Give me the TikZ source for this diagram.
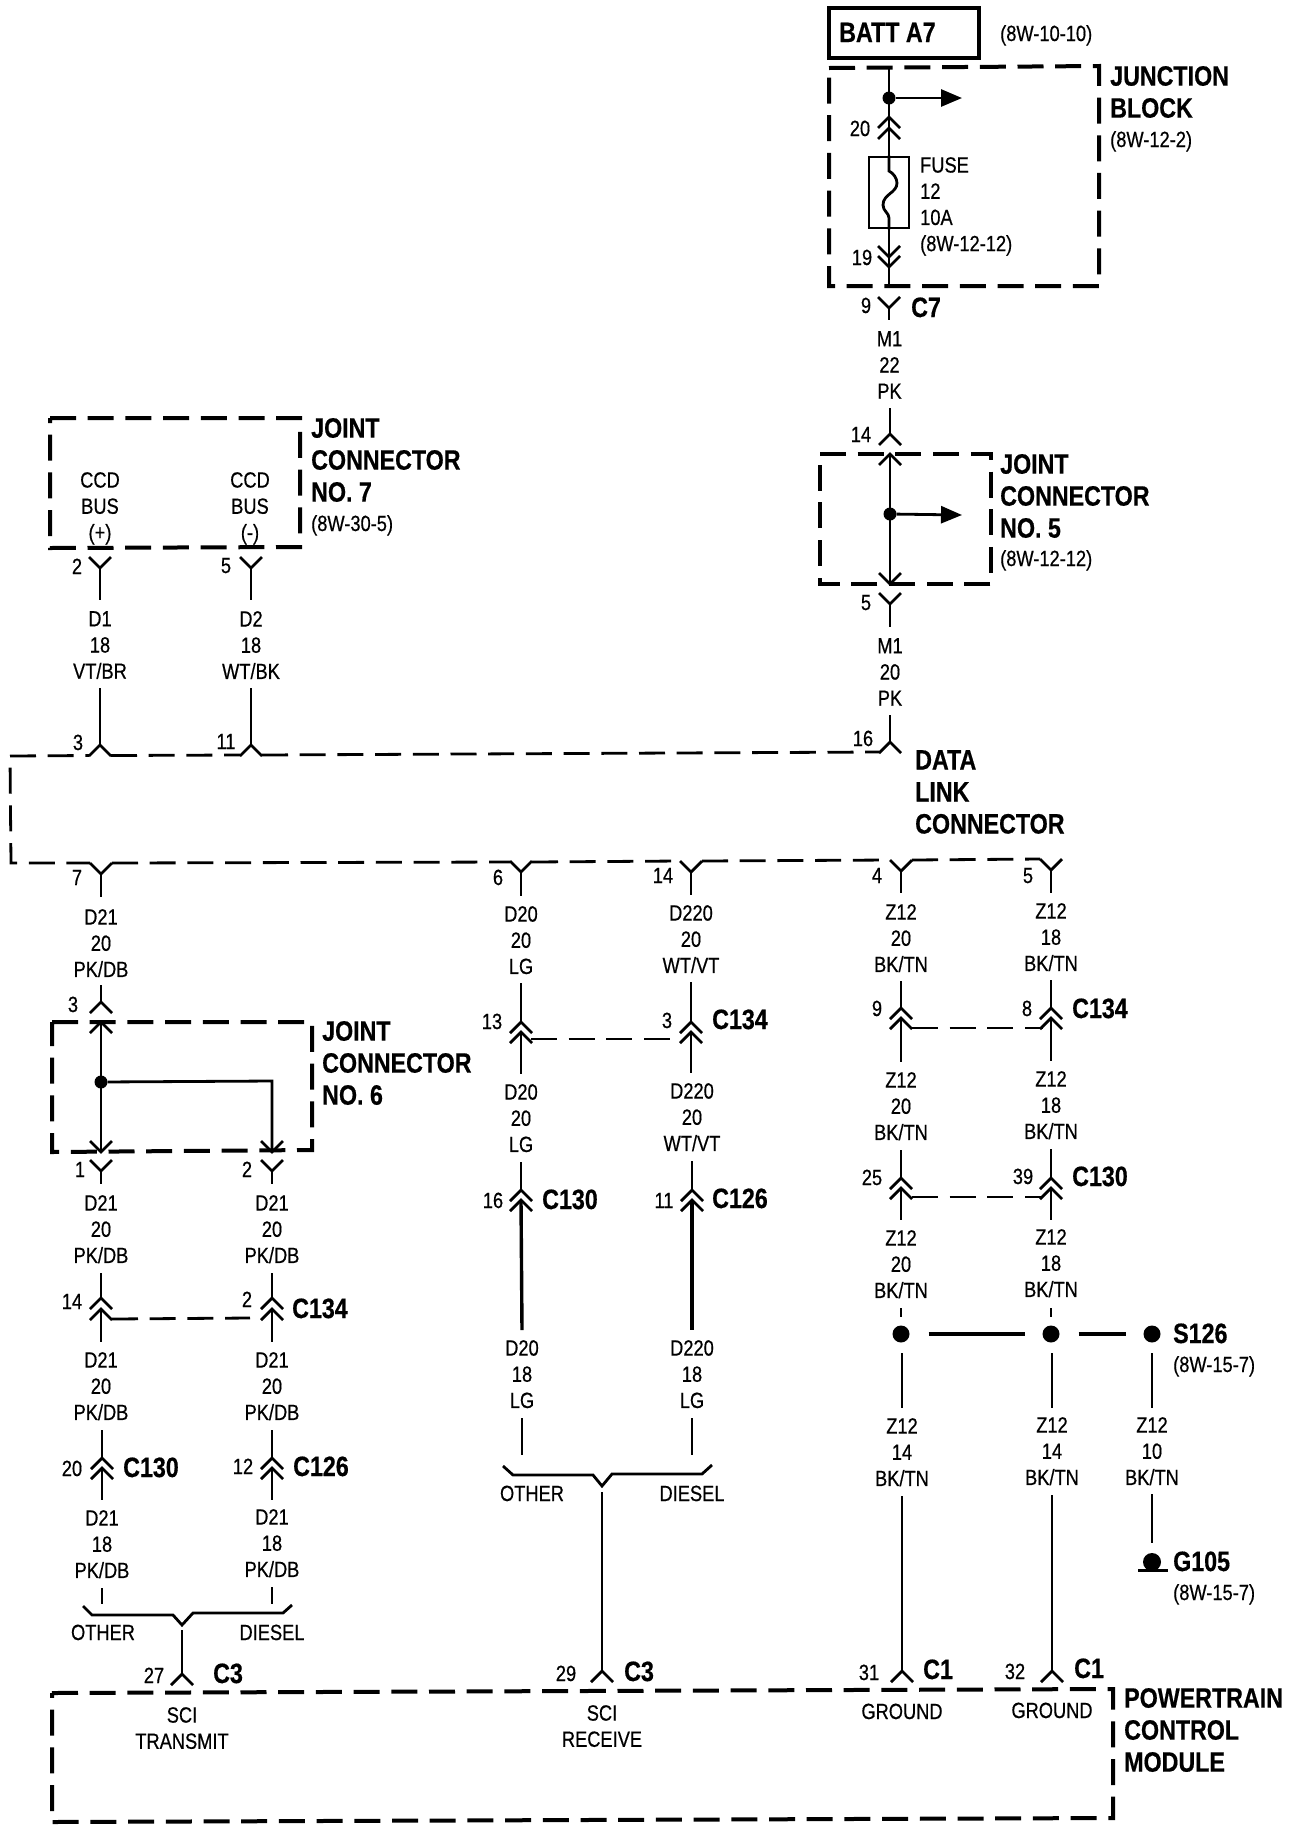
\documentclass[tikz,border=0pt]{standalone}
\usepackage{fontspec}
\setmainfont{Liberation Sans}[FakeStretch=0.83,FakeBold=0.5]
\usetikzlibrary{arrows.meta}
\newcommand{\fsm}{\fontsize{22}{26.2}\selectfont}
\newcommand{\fbg}{\fontsize{28}{32}\selectfont\bfseries}
\tikzset{
	wire/.style={line width=2.8pt},
	heavy/.style={line width=3.4pt},
	tie/.style={line width=2.8pt,dash pattern=on 26pt off 11.7pt},
	box/.style={line width=4pt,dash pattern=on 26pt off 11.7pt},
	wl/.style={inner sep=0pt,anchor=north,align=center,font=\fsm},
	num/.style={inner sep=0pt,font=\fsm,text height=16pt,text depth=0pt},
	refl/.style={num,anchor=west},
	ttl/.style={inner sep=0pt,anchor=west,align=left,font=\fbg},
	con/.style={inner sep=0pt,anchor=west,font=\fbg,text height=20pt,text depth=0pt},
	dot/.style={circle,fill=black,inner sep=0pt,minimum size=13pt},
	bigdot/.style={dot,minimum size=17pt},
	head/.style={-{Triangle[length=21pt,width=17pt]}},
	up/.pic={\draw[wire] (-11,11) -- (0,0) -- (11,11);},
	dn/.pic={\draw[wire] (-11,-11) -- (0,0) -- (11,-11);},
}
\begin{document}
\begin{tikzpicture}[x=1pt,y=-1pt]
	\useasboundingbox (0,0) rectangle (1296,1832);

	% --- junction block
	\node[draw,line width=4pt,inner sep=0pt,minimum width=150pt,minimum height=50pt] (batt) at (904,33) {};
	\node[con] (battl) at (839,32) {BATT A7};
	\node[refl] (battr) at (1000,33) {(8W-10-10)};
	\draw[box] (829,68) -- (1099,66) -- (1099,286) -- (829,286) -- cycle;
	\node[ttl] (jbl) at (1110,92) {JUNCTION\\BLOCK};
	\node[refl] (jbr) at (1110,139) {(8W-12-2)};
	\coordinate (jbt) at (889,68);
	\coordinate (jbb) at (889,286);
	\coordinate (jba) at (962,98);
	\coordinate (c20a) at (889,117);
	\coordinate (c20b) at (889,128);
	\coordinate (c19a) at (889,257);
	\coordinate (c19b) at (889,267);
	\node[dot] (jbd) at (889,98) {};
	\node[draw,line width=2.8pt,inner sep=0pt,minimum width=40pt,minimum height=71pt] (fuse) at (889,192.5) {};
	\draw[wire] (jbt) -- (c20b) -- (fuse.north);
	\draw[wire] (fuse.north) -- (889,171) .. controls (893,173) and (897,178) .. (897,183)
		.. controls (897,193) and (883,194) .. (883,205) .. controls (883,211) and (889,213) .. (889,218) -- (fuse.south);
	\draw[wire] (fuse.south) -- (jbb);
	\draw[wire,head] (jbd) -- (jba);
	\pic at (c20a) {up};
	\pic at (c20b) {up};
	\pic at (c19a) {dn};
	\pic at (c19b) {dn};
	\node[num] (n20) at (860,128) {20};
	\node[num] (n19) at (862,257) {19};
	\node[wl,anchor=north west,align=left] (fusel) at (920,157) {FUSE\\12\\10A\\(8W-12-12)};

	% --- M1 down to joint connector 5
	\coordinate (c9) at (889,308);
	\coordinate (c9w) at (889,320);
	\pic at (c9) {dn};
	\draw[wire] (c9) -- (c9w);
	\node[num] (n9) at (866,305) {9};
	\node[con] (c7) at (911,307) {C7};
	\node[wl] (m1a) at (889.5,331) {M1\\22\\PK};
	\coordinate (m1aw) at (890,408);
	\coordinate (c14t) at (890,434);
	\coordinate (c14b) at (890,454);
	\coordinate (j5b) at (890,584);
	\coordinate (c5) at (890,604);
	\coordinate (c5w) at (890,627);
	\coordinate (j5a) at (962,515);
	\draw[wire] (m1aw) -- (c14t);
	\pic at (c14t) {up};
	\pic at (c14b) {up};
	\node[num] (n14) at (861,434) {14};
	\draw[box] (820,454) -- (991,454) -- (991,584) -- (820,584) -- cycle;
	\node[dot] (j5d) at (890,514) {};
	\draw[wire] (c14b) -- (j5b);
	\draw[wire,head] (j5d) -- (j5a);
	\pic at (j5b) {dn};
	\pic at (c5) {dn};
	\draw[wire] (c5) -- (c5w);
	\node[num] (n5) at (866,602) {5};
	\node[ttl] (j5l) at (1000,496) {JOINT\\CONNECTOR\\NO. 5};
	\node[refl] (j5r) at (1000,558) {(8W-12-12)};
	\node[wl] (m1b) at (890,638) {M1\\20\\PK};
	\coordinate (m1bw) at (890,715);
	\coordinate (c16) at (890,742);
	\draw[wire] (m1bw) -- (c16);
	\pic at (c16) {up};
	\node[num] (n16) at (863,738) {16};

	% --- joint connector 7
	\draw[box] (50,418) -- (300,418) -- (300,547) -- (50,548) -- cycle;
	\node[ttl] (j7l) at (311,460) {JOINT\\CONNECTOR\\NO. 7};
	\node[refl] (j7r) at (311,523) {(8W-30-5)};
	\node[wl] (ccda) at (100,472) {CCD\\BUS\\(+)};
	\node[wl] (ccdb) at (250,472) {CCD\\BUS\\(-)};
	\coordinate (c2) at (100,568);
	\coordinate (c2w) at (100,600);
	\coordinate (c5b) at (251,568);
	\coordinate (c5bw) at (251,600);
	\pic at (c2) {dn};
	\pic at (c5b) {dn};
	\draw[wire] (c2) -- (c2w);
	\draw[wire] (c5b) -- (c5bw);
	\node[num] (n2) at (77,566) {2};
	\node[num] (n5b) at (226,565) {5};
	\node[wl] (d1) at (100,611) {D1\\18\\VT/BR};
	\node[wl] (d2) at (251,611) {D2\\18\\WT/BK};
	\coordinate (d1w) at (100,688);
	\coordinate (d2w) at (251,688);
	\coordinate (c3) at (100,745);
	\coordinate (c11) at (251,745);
	\draw[wire] (d1w) -- (c3);
	\draw[wire] (d2w) -- (c11);
	\pic at (c3) {up};
	\pic at (c11) {up};
	\node[num] (n3) at (78,742) {3};
	\node[num] (n11) at (226,741) {11};

	% --- data link connector, broken at every pin
	\coordinate (dlc1) at (10,756);
	\coordinate (dlc3) at (11,863);
	\coordinate (dt1) at (89,755.5);
	\coordinate (dt2) at (111,755.5);
	\coordinate (dt3) at (240,755);
	\coordinate (dt4) at (262,755);
	\coordinate (dt5) at (879,752);
	\coordinate (db1) at (90,863);
	\coordinate (db2) at (112,863);
	\coordinate (db3) at (510,862);
	\coordinate (db4) at (532,862);
	\coordinate (db5) at (680,861);
	\coordinate (db6) at (702,861);
	\coordinate (db7) at (890,860);
	\coordinate (db8) at (912,860);
	\coordinate (db9) at (1040,859);
	\draw[tie] (dlc1) -- (dt1);
	\draw[tie] (dt2) -- (dt3);
	\draw[tie] (dt4) -- (dt5);
	\draw[tie,dash phase=26pt] (dlc1) -- (dlc3) -- (db1);
	\draw[tie] (db2) -- (db3);
	\draw[tie] (db4) -- (db5);
	\draw[tie] (db6) -- (db7);
	\draw[tie] (db8) -- (db9);
	\node[ttl] (dll) at (915,792) {DATA\\LINK\\CONNECTOR};

	% --- D21 transmit
	\coordinate (c7b) at (101,874);
	\coordinate (c7bw) at (101,897);
	\pic at (c7b) {dn};
	\draw[wire] (c7b) -- (c7bw);
	\node[num] (n7) at (77,877) {7};
	\node[wl] (d21a) at (101,909) {D21\\20\\PK/DB};
	\coordinate (d21aw) at (101,985);
	\coordinate (c3b) at (101,1002);
	\coordinate (j6t) at (101,1022);
	\coordinate (j6b) at (101,1152);
	\coordinate (j6c) at (272,1081);
	\coordinate (j6e) at (272,1152);
	\draw[wire] (d21aw) -- (c3b);
	\pic at (c3b) {up};
	\pic at (j6t) {up};
	\node[num] (n3b) at (73,1004) {3};
	\draw[box] (52,1022) -- (312,1022) -- (312,1150) -- (52,1152) -- cycle;
	\node[dot] (j6d) at (101,1082) {};
	\draw[wire] (j6t) -- (j6b);
	\draw[wire] (j6d) -- (j6c) -- (j6e);
	\pic at (j6b) {dn};
	\pic at (j6e) {dn};
	\node[ttl] (j6l) at (322,1063) {JOINT\\CONNECTOR\\NO. 6};
	\coordinate (c1) at (101,1171);
	\coordinate (c1w) at (101,1184);
	\coordinate (c2b) at (272,1171);
	\coordinate (c2bw) at (272,1184);
	\pic at (c1) {dn};
	\pic at (c2b) {dn};
	\draw[wire] (c1) -- (c1w);
	\draw[wire] (c2b) -- (c2bw);
	\node[num] (n1) at (80,1169) {1};
	\node[num] (n2b) at (247,1169) {2};
	\node[wl] (d21b) at (101,1195) {D21\\20\\PK/DB};
	\node[wl] (d21c) at (272,1195) {D21\\20\\PK/DB};
	\coordinate (w14a) at (101,1273);
	\coordinate (c14ca) at (101,1298);
	\coordinate (c14cb) at (101,1309);
	\coordinate (w14b) at (101,1342);
	\coordinate (w2a) at (272,1273);
	\coordinate (c2ca) at (272,1298);
	\coordinate (c2cb) at (272,1309);
	\coordinate (w2b) at (272,1342);
	\draw[wire] (w14a) -- (c14ca);
	\draw[wire] (c14cb) -- (w14b);
	\draw[wire] (w2a) -- (c2ca);
	\draw[wire] (c2cb) -- (w2b);
	\foreach \p in {c14ca,c14cb,c2ca,c2cb} \pic at (\p) {up};
	\coordinate (t134a) at (112,1319);
	\coordinate (t134b) at (250,1318);
	\draw[tie] (t134a) -- (t134b);
	\node[num] (n14c) at (72,1301) {14};
	\node[num] (n2c) at (247,1299) {2};
	\node[con] (c134a) at (292,1308) {C134};
	\node[wl] (d21d) at (101,1352) {D21\\20\\PK/DB};
	\node[wl] (d21e) at (272,1352) {D21\\20\\PK/DB};
	\coordinate (w20a) at (102,1430);
	\coordinate (c20ca) at (102,1458);
	\coordinate (c20cb) at (102,1468);
	\coordinate (w20b) at (102,1500);
	\coordinate (w12a) at (272,1430);
	\coordinate (c12a) at (272,1458);
	\coordinate (c12b) at (272,1468);
	\coordinate (w12b) at (272,1500);
	\draw[wire] (w20a) -- (c20ca);
	\draw[wire] (c20cb) -- (w20b);
	\draw[wire] (w12a) -- (c12a);
	\draw[wire] (c12b) -- (w12b);
	\foreach \p in {c20ca,c20cb,c12a,c12b} \pic at (\p) {up};
	\node[num] (n20c) at (72,1468) {20};
	\node[num] (n12) at (243,1466) {12};
	\node[con] (c130a) at (123,1467) {C130};
	\node[con] (c126a) at (293,1466) {C126};
	\node[wl] (d21f) at (102,1510) {D21\\18\\PK/DB};
	\node[wl] (d21g) at (272,1509) {D21\\18\\PK/DB};
	\coordinate (s1a) at (102,1588);
	\coordinate (s1b) at (102,1604);
	\coordinate (s2a) at (272,1587);
	\coordinate (s2b) at (272,1604);
	\draw[wire] (s1a) -- (s1b);
	\draw[wire] (s2a) -- (s2b);
	\coordinate (br1) at (182,1625);
	\draw[wire] (83,1606) -- (92,1615) -- (173,1615) -- (br1) -- (193,1613) -- (283,1613) -- (292,1605);
	\node[num] (oth1) at (103,1632) {OTHER};
	\node[num] (die1) at (272,1632) {DIESEL};
	\coordinate (w27) at (182,1630);
	\coordinate (c27) at (182,1674);
	\draw[wire] (w27) -- (c27);
	\pic at (c27) {up};
	\node[num] (n27) at (154,1675) {27};
	\node[con] (c3a) at (213,1673) {C3};

	% --- D20 / D220 receive
	\coordinate (c6) at (521,872);
	\coordinate (c6w) at (521,896);
	\coordinate (c14d) at (691,872);
	\coordinate (c14dw) at (691,895);
	\pic at (c6) {dn};
	\pic at (c14d) {dn};
	\draw[wire] (c6) -- (c6w);
	\draw[wire] (c14d) -- (c14dw);
	\node[num] (n6) at (498,877) {6};
	\node[num] (n14d) at (663,875) {14};
	\node[wl] (d20a) at (521,906) {D20\\20\\LG};
	\node[wl] (d220a) at (691,905) {D220\\20\\WT/VT};
	\coordinate (w13a) at (521,983);
	\coordinate (c13a) at (521,1022);
	\coordinate (c13b) at (521,1032);
	\coordinate (w13b) at (521,1074);
	\coordinate (w3a) at (691,982);
	\coordinate (c3ca) at (691,1022);
	\coordinate (c3cb) at (691,1032);
	\coordinate (w3b) at (691,1073);
	\draw[wire] (w13a) -- (c13a);
	\draw[wire] (c13b) -- (w13b);
	\draw[wire] (w3a) -- (c3ca);
	\draw[wire] (c3cb) -- (w3b);
	\foreach \p in {c13a,c13b,c3ca,c3cb} \pic at (\p) {up};
	\coordinate (t134c) at (531,1039);
	\coordinate (t134d) at (670,1039);
	\draw[tie] (t134c) -- (t134d);
	\node[num] (n13) at (492,1021) {13};
	\node[num] (n3c) at (667,1020) {3};
	\node[con] (c134b) at (712,1019) {C134};
	\node[wl] (d20b) at (521,1084) {D20\\20\\LG};
	\node[wl] (d220b) at (692,1083) {D220\\20\\WT/VT};
	\coordinate (w16a) at (521,1162);
	\coordinate (c16a) at (521,1190);
	\coordinate (c16b) at (521,1200);
	\coordinate (w16b) at (522,1330);
	\coordinate (w11a) at (692,1161);
	\coordinate (c11a) at (692,1190);
	\coordinate (c11b) at (692,1200);
	\coordinate (w11b) at (692,1330);
	\draw[wire] (w16a) -- (c16a);
	\draw[heavy] (c16b) -- (w16b);
	\draw[wire] (w11a) -- (c11a);
	\draw[heavy] (c11b) -- (w11b);
	\foreach \p in {c16a,c16b,c11a,c11b} \pic at (\p) {up};
	\node[num] (n16c) at (493,1200) {16};
	\node[num] (n11c) at (664,1200) {11};
	\node[con] (c130b) at (542,1199) {C130};
	\node[con] (c126b) at (712,1198) {C126};
	\node[wl] (d20c) at (522,1340) {D20\\18\\LG};
	\node[wl] (d220c) at (692,1340) {D220\\18\\LG};
	\coordinate (s3a) at (522,1418);
	\coordinate (s3b) at (522,1455);
	\coordinate (s4a) at (692,1418);
	\coordinate (s4b) at (692,1455);
	\draw[wire] (s3a) -- (s3b);
	\draw[wire] (s4a) -- (s4b);
	\coordinate (br2) at (602,1486);
	\draw[wire] (503,1466) -- (513,1475) -- (593,1475) -- (br2) -- (612,1474) -- (702,1474) -- (712,1465);
	\node[num] (oth2) at (532,1493) {OTHER};
	\node[num] (die2) at (692,1493) {DIESEL};
	\coordinate (w29) at (602,1492);
	\coordinate (c29) at (602,1671);
	\draw[wire] (w29) -- (c29);
	\pic at (c29) {up};
	\node[num] (n29) at (566,1673) {29};
	\node[con] (c3b2) at (624,1671) {C3};

	% --- Z12 grounds
	\coordinate (c4) at (901,871);
	\coordinate (c4w) at (901,893);
	\coordinate (c5d) at (1051,870);
	\coordinate (c5dw) at (1051,893);
	\pic at (c4) {dn};
	\pic at (c5d) {dn};
	\draw[wire] (c4) -- (c4w);
	\draw[wire] (c5d) -- (c5dw);
	\node[num] (n4) at (877,875) {4};
	\node[num] (n5d) at (1028,875) {5};
	\node[wl] (z12a) at (901,904) {Z12\\20\\BK/TN};
	\node[wl] (z12b) at (1051,903) {Z12\\18\\BK/TN};
	\coordinate (w9a) at (901,981);
	\coordinate (c9ca) at (901,1008);
	\coordinate (c9cb) at (901,1018);
	\coordinate (w9b) at (901,1062);
	\coordinate (w8a) at (1051,980);
	\coordinate (c8a) at (1051,1008);
	\coordinate (c8b) at (1051,1018);
	\coordinate (w8b) at (1051,1061);
	\draw[wire] (w9a) -- (c9ca);
	\draw[wire] (c9cb) -- (w9b);
	\draw[wire] (w8a) -- (c8a);
	\draw[wire] (c8b) -- (w8b);
	\foreach \p in {c9ca,c9cb,c8a,c8b} \pic at (\p) {up};
	\coordinate (t134e) at (912,1028);
	\coordinate (t134f) at (1043,1028);
	\draw[tie] (t134e) -- (t134f);
	\node[num] (n9c) at (877,1008) {9};
	\node[num] (n8) at (1027,1008) {8};
	\node[con] (c134c) at (1072,1008) {C134};
	\node[wl] (z12c) at (901,1072) {Z12\\20\\BK/TN};
	\node[wl] (z12d) at (1051,1071) {Z12\\18\\BK/TN};
	\coordinate (w25a) at (901,1150);
	\coordinate (c25a) at (901,1178);
	\coordinate (c25b) at (901,1188);
	\coordinate (w25b) at (901,1220);
	\coordinate (w39a) at (1051,1149);
	\coordinate (c39a) at (1051,1178);
	\coordinate (c39b) at (1051,1188);
	\coordinate (w39b) at (1051,1220);
	\draw[wire] (w25a) -- (c25a);
	\draw[wire] (c25b) -- (w25b);
	\draw[wire] (w39a) -- (c39a);
	\draw[wire] (c39b) -- (w39b);
	\foreach \p in {c25a,c25b,c39a,c39b} \pic at (\p) {up};
	\coordinate (t130a) at (912,1197);
	\coordinate (t130b) at (1043,1197);
	\draw[tie] (t130a) -- (t130b);
	\node[num] (n25) at (872,1177) {25};
	\node[num] (n39) at (1023,1176) {39};
	\node[con] (c130c) at (1072,1176) {C130};
	\node[wl] (z12e) at (901,1230) {Z12\\20\\BK/TN};
	\node[wl] (z12f) at (1051,1229) {Z12\\18\\BK/TN};
	\coordinate (s5a) at (901,1308);
	\coordinate (s5b) at (901,1317);
	\coordinate (s6a) at (1051,1308);
	\coordinate (s6b) at (1051,1317);
	\draw[wire] (s5a) -- (s5b);
	\draw[wire] (s6a) -- (s6b);
	\node[bigdot] (sa) at (901,1334) {};
	\node[bigdot] (sb) at (1051,1334) {};
	\node[bigdot] (sc) at (1152,1334) {};
	\draw[line width=4.5pt,shorten <=19pt,shorten >=17pt] (sa) -- (sb);
	\draw[line width=4.5pt,shorten <=19pt,shorten >=17pt] (sb) -- (sc);
	\node[con] (s126) at (1173,1333) {S126};
	\node[refl] (s126r) at (1173,1364) {(8W-15-7)};
	\coordinate (w1a) at (902,1353);
	\coordinate (w1b) at (902,1408);
	\coordinate (w2c) at (1052,1353);
	\coordinate (w2d) at (1052,1408);
	\coordinate (w3c) at (1152,1353);
	\coordinate (w3d) at (1152,1408);
	\draw[wire] (w1a) -- (w1b);
	\draw[wire] (w2c) -- (w2d);
	\draw[wire] (w3c) -- (w3d);
	\node[wl] (z12g) at (902,1418) {Z12\\14\\BK/TN};
	\node[wl] (z12h) at (1052,1417) {Z12\\14\\BK/TN};
	\node[wl] (z12i) at (1152,1417) {Z12\\10\\BK/TN};
	\coordinate (w31) at (902,1496);
	\coordinate (c31) at (902,1671);
	\coordinate (w32) at (1052,1495);
	\coordinate (c32) at (1052,1671);
	\draw[wire] (w31) -- (c31);
	\draw[wire] (w32) -- (c32);
	\pic at (c31) {up};
	\pic at (c32) {up};
	\node[num] (n31) at (869,1672) {31};
	\node[num] (n32) at (1015,1671) {32};
	\node[con] (c1a) at (923,1669) {C1};
	\node[con] (c1b) at (1074,1668) {C1};
	\coordinate (w10a) at (1152,1494);
	\coordinate (w10b) at (1152,1543);
	\draw[wire] (w10a) -- (w10b);
	\node[dot,minimum size=18pt] (gnd) at (1152,1562) {};
	\coordinate (gndl) at (1138,1570);
	\coordinate (gndr) at (1168,1570);
	\draw[line width=3pt] (gndl) -- (gndr);
	\node[con] (g105) at (1173,1561) {G105};
	\node[refl] (g105r) at (1173,1592) {(8W-15-7)};

	% --- powertrain control module
	\draw[box] (52,1693) -- (1113,1689) -- (1113,1818) -- (52,1822) -- cycle;
	\node[wl] (sci1) at (182,1707) {SCI\\TRANSMIT};
	\node[wl] (sci2) at (602,1705) {SCI\\RECEIVE};
	\node[num] (gnd1) at (902,1711) {GROUND};
	\node[num] (gnd2) at (1052,1710) {GROUND};
	\node[ttl] (pcm) at (1124,1730) {POWERTRAIN\\CONTROL\\MODULE};
\end{tikzpicture}
\end{document}
